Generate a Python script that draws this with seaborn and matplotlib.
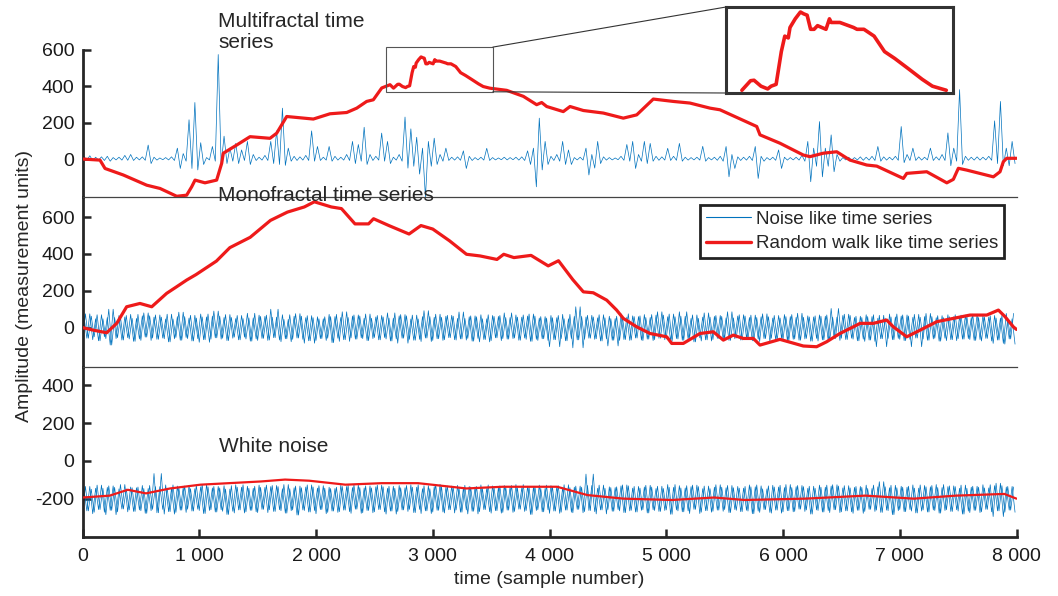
import matplotlib
matplotlib.use("Agg")
import matplotlib.pyplot as plt
from matplotlib.patches import Rectangle, ConnectionPatch
from matplotlib.lines import Line2D
from matplotlib.ticker import FuncFormatter
import seaborn as sns

sns.set_style("ticks")
plt.rcParams['font.family'] = ['Liberation Sans', 'DejaVu Sans']
plt.rcParams['axes.unicode_minus'] = False

# ---------------- data ----------------
BIN = 50  # samples per envelope bin of the noise traces

# Multifractal noise envelope (upper / lower value per 50-sample bin)
mf_hi = [14, 18, 10, 12, 15, 8, 10, 20, 25, 10, 12, 77, 10, 6, 8, 12,
         60, 30, 216, 311, 90, 8, 69, 575, 126, 60, 86, 50, 97, 25, 10, 20,
         97, 155, 280, 60, 15, 12, 20, 155, 69, 10, 69, 15, 10, 25, 97, 80,
         175, 25, 15, 143, 97, 10, 25, 231, 166, 120, 60, 97, 115, 25, 60, 10,
         12, 45, 15, 8, 10, 59, 8, 6, 10, 8, 10, 12, 45, 60, 225, 97,
         15, 25, 97, 50, 8, 10, 60, 25, 97, 12, 8, 6, 15, 80, 97, 25,
         97, 86, 15, 12, 59, 15, 86, 10, 8, 10, 70, 8, 10, 15, 69, 25,
         12, 10, 15, 69, 15, 8, 10, 50, 10, 8, 10, 20, 97, 60, 206, 60,
         133, 25, 8, 10, 8, 12, 10, 15, 69, 12, 10, 15, 179, 25, 60, 12,
         10, 60, 12, 25, 144, 60, 382, 15, 10, 12, 10, 15, 210, 317, 60, 97]
mf_lo = [-7, -8, -6, -8, -12, -5, -6, -7, -8, -5, -7, -25, -6, -4, -5, -8,
         -52, -12, -52, -60, -30, -5, -12, -30, -25, -12, -25, -8, -30, -8, -6, -8,
         -25, -30, -35, -12, -8, -6, -8, -12, -8, -6, -12, -6, -6, -8, -25, -12,
         -30, -8, -6, -12, -25, -6, -12, -50, -40, -83, -210, -40, -30, -12, -8, -6,
         -7, -52, -8, -5, -6, -8, -5, -4, -5, -4, -6, -8, -30, -153, -60, -30,
         -8, -12, -30, -30, -5, -6, -88, -50, -25, -6, -5, -4, -7, -12, -52, -12,
         -25, -12, -7, -6, -8, -7, -12, -6, -5, -6, -12, -5, -7, -12, -98, -52,
         -8, -6, -8, -107, -12, -5, -7, -52, -6, -5, -6, -12, -125, -40, -98, -40,
         -70, -12, -5, -6, -5, -7, -6, -8, -12, -6, -5, -7, -20, -8, -8, -6,
         -5, -8, -6, -8, -37, -12, -30, -7, -6, -6, -5, -7, -25, -37, -37, -25]

# Monofractal noise envelope
mono_hi = [62, 75, 48, 70, 55, 100, 66, 58, 72, 50, 64, 80, 57, 69, 47, 73,
           60, 84, 52, 67, 74, 58, 63, 90, 55, 71, 49, 66, 78, 53, 68, 61,
           100, 57, 70, 45, 62, 76, 54, 65, 59, 48, 72, 60, 55, 86, 63, 69,
           51, 74, 58, 66, 80, 52, 64, 71, 47, 68, 60, 92, 56, 73, 62, 67,
           50, 85, 59, 64, 70, 48, 66, 61, 80, 55, 69, 57, 63, 74, 52, 60,
           66, 54, 72, 48, 61, 113, 58, 67, 53, 70, 62, 49, 75, 57, 64, 60,
           71, 55, 68, 86, 59, 74, 86, 62, 50, 69, 57, 80, 61, 66, 53, 86,
           63, 70, 55, 68, 59, 75, 52, 66, 71, 60, 56, 78, 64, 58, 69, 62,
           104, 57, 66, 73, 55, 62, 70, 60, 51, 67, 74, 58, 63, 69, 56, 72,
           60, 77, 54, 65, 70, 59, 62, 68, 55, 73, 64, 58, 66, 52, 77, 48]
mono_lo = [-58, -66, -72, -50, -95, -60, -68, -55, -75, -62, -52, -70, -64, -57, -78, -61,
           -69, -54, -73, -60, -66, -80, -56, -63, -71, -58, -67, -52, -74, -62, -59, -70,
           -55, -68, -61, -77, -57, -64, -72, -85, -60, -70, -82, -58, -66, -75, -63, -56,
           -71, -60, -67, -54, -73, -62, -58, -85, -69, -64, -57, -76, -61, -70, -55, -66,
           -62, -68, -74, -59, -65, -78, -56, -71, -63, -60, -69, -57, -75, -64, -61, -70,
           -66, -104, -72, -60, -67, -110, -58, -64, -73, -61, -69, -100, -65, -70, -57, -68,
           -63, -71, -58, -66, -74, -60, -69, -62, -78, -56, -67, -73, -59, -65, -70, -61,
           -68, -57, -72, -63, -60, -76, -66, -58, -71, -64, -69, -62, -74, -59, -67, -73,
           -60, -70, -65, -58, -72, -63, -68, -75, -61, -104, -66, -59, -71, -64, -57, -104,
           -69, -62, -74, -58, -66, -71, -63, -60, -70, -65, -59, -73, -68, -86, -62, -90]

# White noise envelope
white_hi = [-150, -135, -145, -128, -140, -132, -148, -125, -138, -142, -130, -146, -67, -136, -127, -144,
            -133, -141, -129, -147, -137, -124, -143, -135, -131, -149, -126, -139, -134, -145, -128, -140,
            -136, -130, -147, -125, -142, -133, -138, -127, -144, -131, -139, -146, -129, -135, -141, -126,
            -143, -132, -137, -128, -145, -134, -130, -142, -126, -139, -147, -131, -136, -124, -140, -133,
            -129, -144, -135, -138, -127, -146, -132, -141, -130, -137, -125, -143, -134, -139, -128, -145,
            -131, -136, -142, -126, -139, -133, -70, -130, -145, -128, -137, -141, -132, -127, -144, -135,
            -138, -129, -146, -134, -125, -140, -131, -143, -136, -128, -147, -133, -139, -126, -142, -130,
            -135, -144, -127, -137, -132, -148, -129, -138, -141, -125, -136, -130, -145, -134, -128, -139,
            -133, -126, -143, -131, -140, -135, -128, -146, -137, -110, -142, -129, -134, -139, -127, -144,
            -130, -137, -125, -141, -136, -132, -145, -128, -139, -134, -126, -143, -131, -118, -138, -135]
white_lo = [-265, -280, -258, -272, -262, -285, -255, -270, -268, -260, -278, -264, -275, -257, -269, -282,
            -261, -273, -266, -256, -279, -263, -271, -259, -284, -267, -260, -276, -262, -270, -257, -274,
            -268, -259, -277, -264, -287, -260, -271, -263, -258, -280, -266, -273, -261, -269, -256, -278,
            -263, -275, -258, -270, -266, -282, -260, -268, -274, -257, -265, -279, -262, -271, -259, -276,
            -272, -260, -267, -281, -258, -269, -264, -277, -261, -273, -256, -268, -284, -263, -270, -259,
            -266, -278, -261, -272, -257, -275, -263, -269, -260, -281, -267, -258, -274, -265, -271, -262,
            -276, -259, -268, -263, -283, -260, -270, -265, -257, -279, -264, -272, -261, -267, -274, -258,
            -269, -262, -280, -266, -258, -273, -261, -277, -264, -270, -256, -268, -282, -260, -271, -263,
            -259, -274, -265, -270, -262, -278, -257, -268, -273, -261, -285, -264, -269, -258, -276, -266,
            -271, -260, -277, -263, -268, -259, -282, -266, -262, -274, -257, -270, -265, -295, -261, -272]

# Random-walk like series
mf_rw_x = [0, 150, 193, 350, 550, 664, 807, 892, 935, 964,
           1049, 1149, 1192, 1206, 1321, 1435, 1606, 1663, 1749, 1977,
           2120, 2263, 2349, 2434, 2491, 2563, 2634, 2664, 2699, 2713,
           2741, 2768, 2782, 2802, 2823, 2837, 2851, 2858, 2879, 2900,
           2913, 2927, 2941, 2955, 2969, 3003, 3017, 3024, 3059, 3114,
           3128, 3156, 3197, 3239, 3280, 3336, 3391, 3432, 3488, 3633,
           3776, 3890, 3933, 3976, 4118, 4176, 4290, 4461, 4632, 4747,
           4889, 5060, 5203, 5375, 5460, 5775, 5803, 5974, 6174, 6231,
           6345, 6460, 6574, 6717, 6803, 7031, 7060, 7231, 7403, 7459,
           7502, 7574, 7802, 7859, 7887, 7916, 8000]
mf_rw_y = [0, -6, -52, -88, -144, -162, -205, -199, -153, -116,
           -131, -116, -24, 32, 77, 123, 114, 142, 234, 220,
           249, 256, 280, 317, 326, 391, 409, 390, 411, 412,
           399, 393, 399, 403, 475, 509, 505, 528, 547, 562,
           558, 555, 524, 524, 532, 524, 547, 539, 539, 528,
           524, 524, 509, 475, 460, 437, 414, 399, 390, 378,
           345, 299, 311, 289, 261, 289, 267, 253, 225, 243,
           330, 317, 308, 280, 271, 179, 133, 87, 22, 13,
           32, 40, -6, -33, -39, -107, -79, -70, -131, -112,
           -51, -61, -98, -70, -15, 4, 4]

mono_rw_x = [0, 93, 207, 293, 378, 492, 593, 721, 807, 892,
             973, 1147, 1262, 1436, 1610, 1755, 1900, 1986, 2131, 2218,
             2334, 2450, 2493, 2624, 2797, 2899, 3000, 3144, 3289, 3405,
             3550, 3608, 3695, 3842, 3989, 4077, 4200, 4290, 4375, 4490,
             4575, 4632, 4747, 4861, 5004, 5047, 5146, 5289, 5403, 5489,
             5574, 5660, 5746, 5803, 5974, 6174, 6288, 6374, 6488, 6602,
             6660, 6774, 6888, 6945, 7060, 7174, 7317, 7459, 7602, 7745,
             7845, 7902, 7973, 8000]
mono_rw_y = [0, -14, -28, 23, 113, 131, 113, 186, 222, 258,
             288, 361, 434, 490, 582, 627, 655, 683, 655, 646,
             563, 563, 591, 554, 508, 554, 535, 471, 398, 389,
             370, 398, 380, 392, 335, 363, 260, 194, 189, 149,
             95, 50, 4, -32, -50, -86, -86, -32, -23, -68,
             -41, -59, -59, -95, -64, -100, -104, -77, -32, 4,
             23, 23, 41, 4, -50, -14, 32, 50, 68, 68,
             95, 59, 4, -10]

white_rw_x = [0, 233, 388, 544, 751, 1010, 1528, 1735, 1942, 2252, 2563, 2874, 3288,
              3599, 4065, 4324, 4634, 5049, 5411, 5670, 6188, 6706, 7120, 7482, 7896, 8000]
white_rw_y = [-194, -184, -153, -172, -146, -126, -109, -99, -105, -126, -118, -118, -146,
              -137, -137, -181, -200, -207, -194, -207, -200, -184, -200, -184, -175, -200]

x_ticks = [0, 1000, 2000, 3000, 4000, 5000, 6000, 7000, 8000]
y_ticks_top = [0, 200, 400, 600]
y_ticks_mid = [0, 200, 400, 600]
y_ticks_bot = [-200, 0, 200, 400]

panel_titles = ["Multifractal time\nseries", "Monofractal time series", "White noise"]
legend_labels = ["Noise like time series", "Random walk like time series"]

# ---------------- styling ----------------
BLUE = "#0072BD"
RED = "#EE1A1A"
DARK = "#262626"
W, H = 1058, 596


def envelope_trace(hi, lo, phase):
    """Zig-zag through the per-bin extremes.
    phase 0: max then min of each bin; phase 1: min then max of the neighbouring bin
    (pairs swapped) drawn half a bin earlier, to give the band a denser texture."""
    n = len(hi)
    xs, ys = [], []
    for i in range(n):
        if phase == 0:
            xs += [i * BIN + BIN * 0.25, i * BIN + BIN * 0.75]
            ys += [hi[i], lo[i]]
        else:
            j = min(i + 1, n - 1) if i % 2 == 0 else i - 1
            xs += [i * BIN, i * BIN + BIN * 0.5]
            ys += [lo[j], hi[j]]
    return xs, ys


def fx(px):
    return px / W


def fy(py):
    return 1 - py / H


fig = plt.figure(figsize=(W / 100, H / 100), dpi=100)
L, R = 82.5, 1016.5
ax_top = fig.add_axes([fx(L), fy(197), fx(R - L), (197 - 50) / H])
ax_mid = fig.add_axes([fx(L), fy(367), fx(R - L), (367 - 197) / H])
ax_bot = fig.add_axes([fx(L), fy(537), fx(R - L), (537 - 367) / H])

panels = [
    (ax_top, mf_hi, mf_lo, mf_rw_x, mf_rw_y, (-209, 600), y_ticks_top, 2.3, (0,)),
    (ax_mid, mono_hi, mono_lo, mono_rw_x, mono_rw_y, (-214, 709), y_ticks_mid, 2.3, (0, 1)),
    (ax_bot, white_hi, white_lo, white_rw_x, white_rw_y, (-403, 497), y_ticks_bot, 1.6, (0, 1)),
]

for ax, hi, lo, rx, ry, ylim, yt, rlw, phases in panels:
    for ph in phases:
        nx, ny = envelope_trace(hi, lo, ph)
        sns.lineplot(x=nx, y=ny, ax=ax, color=BLUE, linewidth=0.5, estimator=None,
                     sort=False, legend=False, zorder=2)
    sns.lineplot(x=rx, y=ry, ax=ax, color=RED, linewidth=rlw, estimator=None,
                 sort=False, legend=False, zorder=3)
    ax.set_xlim(0, 8000)
    ax.set_ylim(*ylim)
    ax.set_yticks(yt)
    ax.set_xlabel("")
    ax.set_ylabel("")
    ax.patch.set_alpha(0)
    for s in ["right", "bottom", "top"]:
        ax.spines[s].set_visible(False)
    ax.spines["left"].set_linewidth(2.0)
    ax.spines["left"].set_color(DARK)
    ax.tick_params(axis="y", direction="in", length=6, width=1.8, color=DARK,
                   labelsize=14, labelcolor="#1a1a1a", pad=6)
    ax.tick_params(axis="x", bottom=False, labelbottom=False)

# thin separator lines (panel tops)
for ax in (ax_mid, ax_bot):
    ax.spines["top"].set_visible(True)
    ax.spines["top"].set_linewidth(0.9)
    ax.spines["top"].set_color("#444444")

# bottom axis
ax_bot.spines["bottom"].set_visible(True)
ax_bot.spines["bottom"].set_linewidth(2.0)
ax_bot.spines["bottom"].set_color(DARK)
ax_bot.set_xticks(x_ticks)
ax_bot.xaxis.set_major_formatter(FuncFormatter(lambda v, p: f"{int(v):,}".replace(",", " ")))
ax_bot.tick_params(axis="x", bottom=True, labelbottom=True, direction="in", length=6,
                   width=1.8, color=DARK, labelsize=14, labelcolor="#1a1a1a", pad=8)

# zoom rectangle + inset
rect_x0, rect_x1, rect_y0, rect_y1 = 2600, 3515, 370, 616
ax_top.add_patch(Rectangle((rect_x0, rect_y0), rect_x1 - rect_x0, rect_y1 - rect_y0,
                           fill=False, ec="#555555", lw=0.8, clip_on=False, zorder=4))
ax_in = fig.add_axes([fx(726), fy(93), fx(953 - 726), (93 - 7) / H])
in_x = [x for x in mf_rw_x if 2660 <= x <= 3500]
in_y = [y for x, y in zip(mf_rw_x, mf_rw_y) if 2660 <= x <= 3500]
sns.lineplot(x=in_x, y=in_y, ax=ax_in, color=RED, linewidth=2.6, estimator=None,
             sort=False, legend=False)
ax_in.set_xlim(rect_x0, rect_x1)
ax_in.set_ylim(384, 573)
ax_in.set_xticks([])
ax_in.set_yticks([])
ax_in.set_xlabel("")
ax_in.set_ylabel("")
for s in ax_in.spines.values():
    s.set_visible(True)
    s.set_linewidth(2.2)
    s.set_color("#333333")

for (xa, ya), (xb, yb) in [((rect_x1, rect_y1), (0, 1)), ((rect_x1, rect_y0), (0, 0))]:
    cp = ConnectionPatch(xyA=(xa, ya), coordsA=ax_top.transData,
                         xyB=(xb, yb), coordsB=ax_in.transAxes,
                         color="#333333", lw=0.8, zorder=4)
    fig.add_artist(cp)

# panel labels
fig.text(fx(218), fy(12), panel_titles[0], fontsize=15, va="top", ha="left",
         linespacing=1.1, zorder=10)
fig.text(fx(218), fy(195), panel_titles[1], fontsize=15, va="center", ha="left", zorder=10)
fig.text(fx(219), fy(447), panel_titles[2], fontsize=15, va="center", ha="left", zorder=10)

# axis labels
fig.text(fx(25), fy(286), "Amplitude (measurement units)", rotation=90, fontsize=14,
         va="center", ha="center")
fig.text(fx(549), fy(580), "time (sample number)", fontsize=14, va="center", ha="center")

# legend
handles = [Line2D([], [], color=BLUE, lw=0.8), Line2D([], [], color=RED, lw=2.4)]
leg = ax_mid.legend(handles, legend_labels, loc="upper right",
                    bbox_to_anchor=(fx(1004), fy(205)), bbox_transform=fig.transFigure,
                    fontsize=13.5, frameon=True, fancybox=False, framealpha=1,
                    edgecolor="#222222", handlelength=2.4, borderpad=0.3,
                    labelspacing=0.4, handletextpad=0.3, borderaxespad=0)
leg.get_frame().set_linewidth(2.0)
leg.set_zorder(20)

fig.savefig("out.png", dpi=100)
